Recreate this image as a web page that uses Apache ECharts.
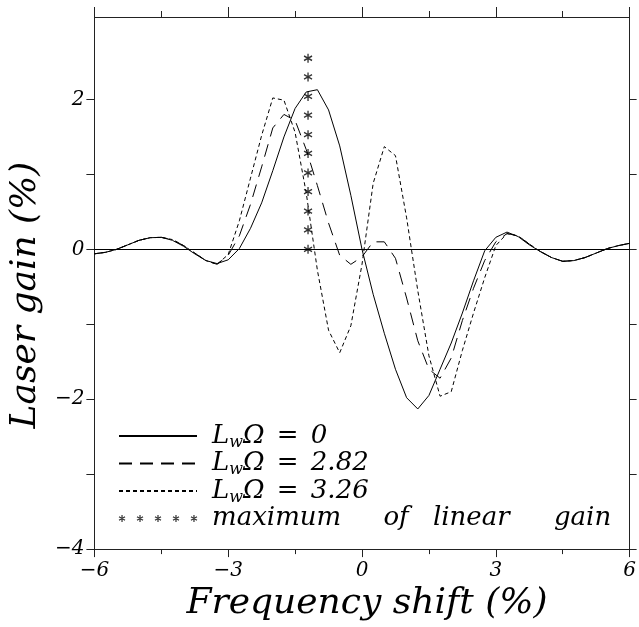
<!DOCTYPE html>
<html>
<head>
<meta charset="utf-8">
<script src="https://cdn.jsdelivr.net/npm/echarts@6/dist/echarts.min.js"></script>
<style>html,body{margin:0;padding:0;background:#fff}#c{width:639px;height:627px}</style>
</head>
<body>
<div id="c"></div>
<script>
// ---- data ----
const freqShift = [-6,-5.75,-5.5,-5.25,-5,-4.75,-4.5,-4.25,-4,-3.75,-3.5,-3.25,-3,-2.75,-2.5,-2.25,-2,-1.75,-1.5,-1.25,-1,-0.75,-0.5,-0.25,0,0.25,0.5,0.75,1,1.25,1.5,1.75,2,2.25,2.5,2.75,3,3.25,3.5,3.75,4,4.25,4.5,4.75,5,5.25,5.5,5.75,6];
const gainL0 = [-0.06,-0.04,0.00,0.06,0.12,0.155,0.16,0.12,0.04,-0.06,-0.15,-0.19,-0.14,0.01,0.28,0.62,1.05,1.5,1.88,2.1,2.13,1.86,1.38,0.72,0.0,-0.6,-1.12,-1.6,-1.98,-2.13,-1.95,-1.6,-1.25,-0.85,-0.42,-0.02,0.16,0.23,0.17,0.06,-0.03,-0.11,-0.16,-0.15,-0.11,-0.05,0.01,0.05,0.08];
const gainL282 = [-0.06,-0.04,0.0,0.06,0.12,0.155,0.16,0.13,0.05,-0.05,-0.15,-0.2,-0.08,0.18,0.6,1.1,1.62,1.8,1.72,1.33,0.85,0.35,-0.08,-0.2,-0.1,0.1,0.1,-0.12,-0.65,-1.22,-1.6,-1.72,-1.45,-0.95,-0.52,-0.15,0.1,0.21,0.18,0.07,-0.03,-0.11,-0.16,-0.15,-0.11,-0.05,0.01,0.05,0.08];
const gainL326 = [-0.06,-0.04,0.0,0.06,0.12,0.155,0.16,0.13,0.05,-0.05,-0.15,-0.2,-0.07,0.38,0.95,1.52,2.02,1.99,1.56,0.75,-0.28,-1.08,-1.38,-1.02,-0.2,0.88,1.37,1.25,0.42,-0.55,-1.42,-1.96,-1.9,-1.35,-0.85,-0.38,0.05,0.21,0.18,0.07,-0.03,-0.11,-0.16,-0.15,-0.11,-0.05,0.01,0.05,0.08];
const maxLinearX = -1.21;
const maxLinearY = [0,0.26,0.51,0.77,1.02,1.28,1.53,1.79,2.04,2.3,2.55];
const seriesNames = ['LwΩ = 0','LwΩ = 2.82','LwΩ = 3.26','maximum of linear gain'];
const xTickLabels = [-6,-3,0,3,6];
const yTickLabels = [-4,-2,0,2];
const yTickMarks = [-4,-3,-2,-1,0,1,2];

const zip = (xs, ys) => xs.map((x, i) => [x, ys[i]]);
const FONT = 'DejaVu Serif';
const fmtNum = v => (v < 0 ? '\u2212' + Math.abs(v) : String(v));
const star = 'path://M0 -3.5 L0 3.5 M-3.03 -1.75 L3.03 1.75 M-3.03 1.75 L3.03 -1.75';
const fiveStars = 'path://' + [3.5,21.5,39.5,57.5,75.5].map(c =>
  `M${c} -3.5 L${c} 3.5 M${c-3.03} -1.75 L${c+3.03} 1.75 M${c-3.03} 1.75 L${c+3.03} -1.75`).join(' ');

const chart = echarts.init(document.getElementById('c'), null, {renderer: 'canvas'});
const axisLineStyle = {color: '#222', width: 1};
const lineSeries = (name, data, type) => ({
  name, type: 'line', data, xAxisIndex: 0, yAxisIndex: 0,
  showSymbol: false, symbol: 'none', smooth: false, silent: true,
  itemStyle: {color: '#000'},
  lineStyle: {color: '#000', width: 1, type}
});

const T = {fontFamily: FONT, fontStyle: 'italic', fontSize: 26, lineHeight: 29, color: '#000'};
const legendText = {
  [seriesNames[0]]: '{p|}{n|L}{s|w}{n|Ω }{e|=}{n| 0}',
  [seriesNames[1]]: '{p|}{n|L}{s|w}{n|Ω }{e|=}{n| 2.82}',
  [seriesNames[2]]: '{p|}{n|L}{s|w}{n|Ω }{e|=}{n| 3.26}',
  [seriesNames[3]]: '{p|}{w1|maximum }{w2|of }{w3|linear }{n|gain}'
};
const hideSym = {opacity: 0, borderWidth: 0};

chart.setOption({
  animation: false,
  backgroundColor: '#fff',
  grid: {left: 82, right: 7, top: 17, bottom: 69, containLabel: false},
  xAxis: [{
    type: 'value', position: 'bottom', min: -6, max: 6, interval: 3,
    axisLine: {show: true, onZero: false, lineStyle: axisLineStyle},
    axisTick: {show: true, inside: false, length: 8, lineStyle: axisLineStyle},
    minorTick: {show: true, splitNumber: 2, length: 5, lineStyle: axisLineStyle},
    splitLine: {show: false},
    axisLabel: {show: true, margin: 12, fontFamily: FONT, fontStyle: 'italic', fontSize: 20, color: '#000',
      customValues: xTickLabels, formatter: fmtNum},
    name: 'Frequency shift (%)', nameLocation: 'middle', nameGap: 33,
    nameTextStyle: {fontFamily: FONT, fontStyle: 'italic', fontSize: 36, color: '#000', padding: [0, 0, 0, 10]}
  }, {
    type: 'value', position: 'top', min: -6, max: 6, interval: 3,
    axisLine: {show: true, onZero: false, lineStyle: axisLineStyle},
    axisTick: {show: true, inside: false, length: 10, lineStyle: axisLineStyle},
    minorTick: {show: true, splitNumber: 2, length: 6, lineStyle: axisLineStyle},
    splitLine: {show: false}, axisLabel: {show: false}
  }],
  yAxis: [{
    type: 'value', position: 'left', min: -4, max: 3.1,
    axisLine: {show: true, onZero: false, lineStyle: axisLineStyle},
    axisTick: {show: true, inside: false, length: 8, customValues: yTickMarks, lineStyle: axisLineStyle},
    splitLine: {show: false},
    axisLabel: {show: true, margin: 10, fontFamily: FONT, fontStyle: 'italic', fontSize: 20, color: '#000',
      customValues: yTickLabels, formatter: fmtNum},
    name: 'Laser gain (%)', nameLocation: 'middle', nameGap: 40,
    nameTextStyle: {fontFamily: FONT, fontStyle: 'italic', fontSize: 36, color: '#000', padding: [0, 24, 0, 0]}
  }, {
    type: 'value', position: 'right', min: -4, max: 3.1,
    axisLine: {show: true, onZero: false, lineStyle: axisLineStyle},
    axisTick: {show: true, inside: false, length: 7, customValues: yTickMarks, lineStyle: axisLineStyle},
    splitLine: {show: false}, axisLabel: {show: false}
  }],
  legend: {
    orient: 'vertical', left: 113, top: 418, itemGap: 0,
    itemWidth: 78, itemHeight: 8, selectedMode: false,
    data: [
      {name: seriesNames[0], itemStyle: hideSym},
      {name: seriesNames[1], itemStyle: hideSym},
      {name: seriesNames[2], itemStyle: hideSym},
      {name: seriesNames[3], icon: fiveStars, itemStyle: {color: '#000', borderColor: '#000', borderWidth: 1.2}}
    ],
    formatter: name => legendText[name],
    textStyle: {
      color: '#000',
      rich: {
        p: {width: 10},
        n: T,
        e: Object.assign({}, T, {padding: [0, 4, 0, 4]}),
        s: {fontFamily: FONT, fontStyle: 'italic', fontSize: 16, lineHeight: 14, verticalAlign: 'bottom', color: '#000'},
        w1: Object.assign({}, T, {padding: [0, 34, 0, 0]}),
        w2: Object.assign({}, T, {padding: [0, 16, 0, 0]}),
        w3: Object.assign({}, T, {padding: [0, 36, 0, 0]})
      }
    }
  },
  series: [
    Object.assign(lineSeries(seriesNames[0], zip(freqShift, gainL0), 'solid'), {
      markLine: {silent: true, symbol: ['none', 'none'], label: {show: false},
        lineStyle: {color: '#000', width: 1, type: 'solid'}, data: [{yAxis: 0}]}
    }),
    lineSeries(seriesNames[1], zip(freqShift, gainL282), [13, 8]),
    lineSeries(seriesNames[2], zip(freqShift, gainL326), [4, 3]),
    {
      name: seriesNames[3], type: 'scatter', silent: true,
      data: maxLinearY.map(y => [maxLinearX, y]),
      symbol: star, symbolSize: [8, 9],
      itemStyle: {color: '#000', borderColor: '#000', borderWidth: 1.4}
    }
  ]
});
</script>
</body>
</html>
